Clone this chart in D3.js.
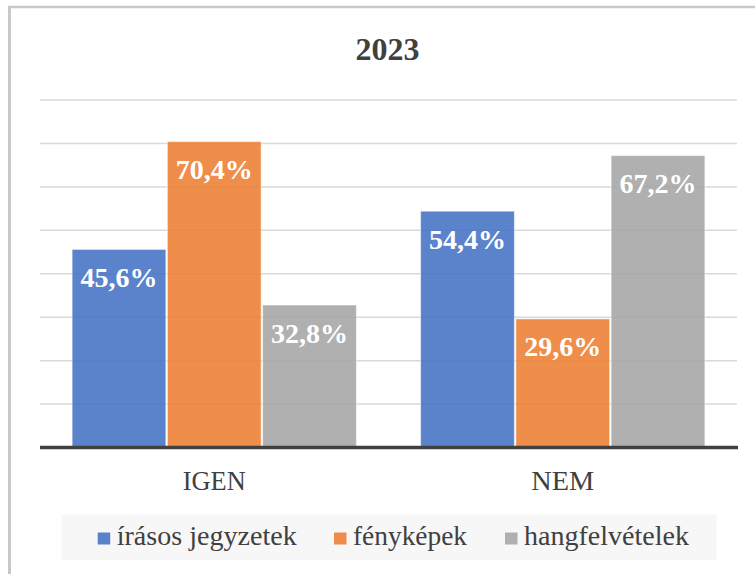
<!DOCTYPE html>
<html><head><meta charset="utf-8">
<script src="https://cdn.jsdelivr.net/npm/d3@7"></script>
<style>html,body{margin:0;padding:0;background:#fff;}svg{display:block;}
svg text{font-family:"Liberation Serif","Times New Roman",Times,serif;}</style>
</head><body>
<svg id="c" width="755" height="574"></svg>
<script>
const title = "2023";
const categories = ["IGEN", "NEM"];
const seriesNames = ["írásos jegyzetek", "fényképek", "hangfelvételek"];
const seriesColors = ["#4472C4", "#ED7D31", "#A5A5A5"];
const valuesIrasos = [45.6, 54.4];
const valuesFenykepek = [70.4, 29.6];
const valuesHang = [32.8, 67.2];
const yTicks = [0, 10, 20, 30, 40, 50, 60, 70, 80];
const fmt = v => v.toFixed(1).replace(".", ",") + "%";

const series = [valuesIrasos, valuesFenykepek, valuesHang];
const svg = d3.select("#c");

// frame
svg.append("line").attr("x1", 9.5).attr("x2", 9.5).attr("y1", 6).attr("y2", 574)
  .attr("stroke", "#C8C8C8").attr("stroke-width", 3);
svg.append("line").attr("x1", 8).attr("x2", 755).attr("y1", 7).attr("y2", 7)
  .attr("stroke", "#C8C8C8").attr("stroke-width", 2.5);

const x0 = d3.scaleBand().domain(categories).range([40, 737]).paddingInner(0.18).paddingOuter(0.09);
const x1 = d3.scaleBand().domain(d3.range(seriesNames.length)).range([0, x0.bandwidth()]);
const y = d3.scaleLinear().domain([0, 80]).range([447.5, 100]);

// gridlines
svg.append("g").selectAll("line").data(yTicks.filter(t => t > 0)).join("line")
  .attr("x1", 40).attr("x2", 737)
  .attr("y1", d => y(d)).attr("y2", d => y(d))
  .attr("stroke", "#D9D9D9").attr("stroke-width", 1.5);

// bars
const rows = [];
categories.forEach((c, ci) => series.forEach((s, si) => rows.push({c, si, v: s[ci]})));
svg.append("g").selectAll("rect").data(rows).join("rect")
  .attr("x", d => x0(d.c) + x1(d.si) + 0.75)
  .attr("width", x1.bandwidth() - 1.5)
  .attr("y", d => y(d.v))
  .attr("height", d => y(0) - y(d.v))
  .attr("fill", d => seriesColors[d.si]).attr("fill-opacity", 0.88)
  .attr("stroke", "#ffffff").attr("stroke-opacity", 0.5).attr("stroke-width", 1);

// labels
svg.append("g").selectAll("text").data(rows).join("text")
  .attr("x", d => x0(d.c) + x1(d.si) + x1.bandwidth() / 2)
  .attr("y", d => y(d.v) + 37.5)
  .attr("text-anchor", "middle")
  .style("font-weight", "bold").style("font-size", "28px")
  .attr("fill", "#ffffff")
  .text(d => fmt(d.v));

// axis baseline
svg.append("line").attr("x1", 40).attr("x2", 738).attr("y1", y(0)).attr("y2", y(0))
  .attr("stroke", "#404040").attr("stroke-width", 3.5);

// category labels
svg.append("g").selectAll("text").data(categories).join("text")
  .attr("x", d => x0(d) + x0.bandwidth() / 2)
  .attr("y", 490)
  .attr("text-anchor", "middle")
  .style("font-size", "27px")
  .attr("fill", "#404040")
  .attr("textLength", 63).attr("lengthAdjust", "spacingAndGlyphs")
  .text(d => d);

// title
svg.append("text").attr("x", 387.5).attr("y", 60).attr("text-anchor", "middle")
  .style("font-weight", "bold").style("font-size", "32px")
  .attr("fill", "#404040").text(title);

// legend
svg.append("rect").attr("x", 61.5).attr("y", 514.5).attr("width", 655).attr("height", 45.5)
  .attr("fill", "#F7F7F7");
const legendX = [97.7, 334, 505];
const legendW = [180, 114, 165];
const lg = svg.append("g").selectAll("g").data(seriesNames).join("g")
  .attr("transform", (d, i) => `translate(${legendX[i]},0)`);
lg.append("rect").attr("x", 0).attr("y", 532.5).attr("width", 12.5).attr("height", 12)
  .attr("fill", (d, i) => seriesColors[i]).attr("fill-opacity", 0.88);
lg.append("text").attr("x", 19).attr("y", 545)
  .style("font-size", "27px").attr("fill", "#404040")
  .attr("textLength", (d, i) => legendW[i]).attr("lengthAdjust", "spacingAndGlyphs")
  .text(d => d);
</script>
</body></html>
